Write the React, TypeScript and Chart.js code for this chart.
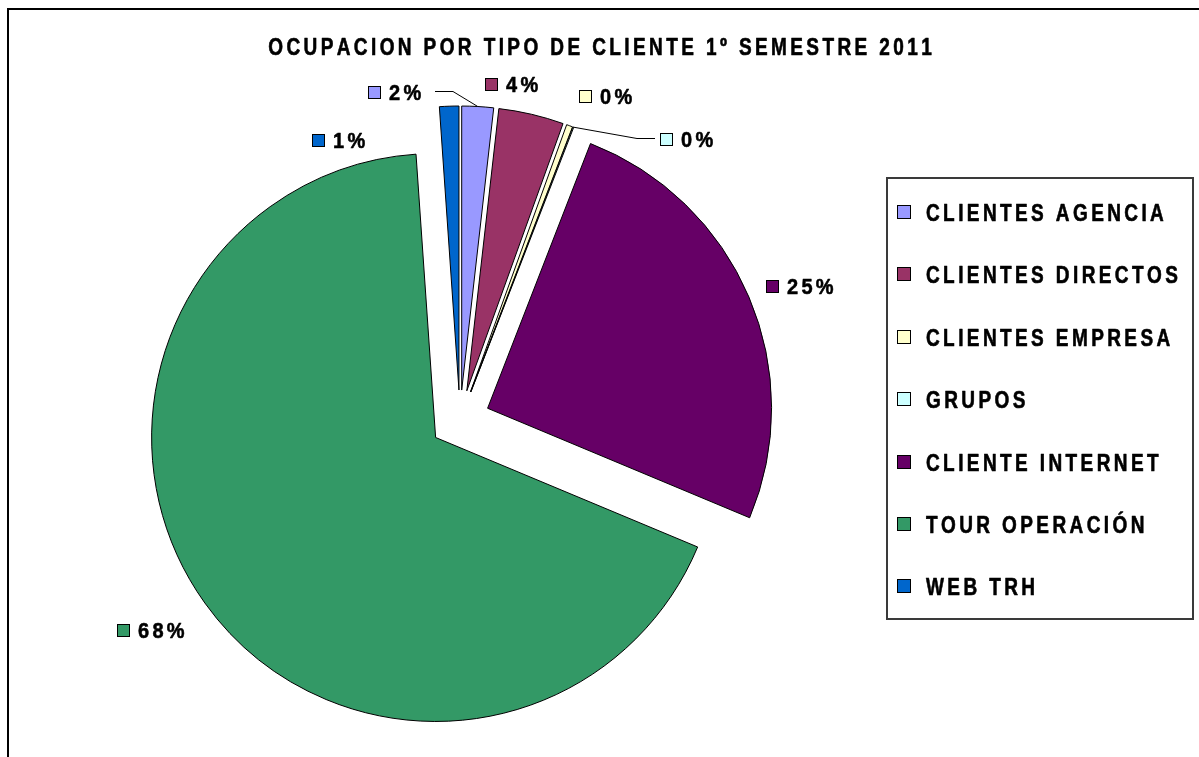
import React, { useEffect, useRef } from "react";
import { Chart, registerables } from "chart.js";

Chart.register(...registerables);

const categories = [
  "CLIENTES AGENCIA",
  "CLIENTES DIRECTOS",
  "CLIENTES EMPRESA",
  "GRUPOS",
  "CLIENTE INTERNET",
  "TOUR OPERACIÓN",
  "WEB TRH",
];
const shares = [1.8, 3.7, 0.35, 0.05, 25.4, 67.6, 1.1];
const sliceColors = ["#9999FF", "#993366", "#FFFFCC", "#CCFFFF", "#660066", "#339966", "#0066CC"];
const chartTitle = "OCUPACION POR TIPO DE CLIENTE 1º SEMESTRE 2011";

// Styling / layout only
const EXPLODE = 30;
const RADIUS = 284;
const FONT = '"Liberation Sans", Arial, Helvetica, sans-serif';
const labelPlacement: { x: number; y: number; elbow?: number[]; end?: number[] }[] = [
  { x: 368, y: 92, elbow: [453, 91], end: [435, 91] },
  { x: 485, y: 84 },
  { x: 579, y: 96 },
  { x: 660, y: 139, elbow: [637, 138], end: [655, 138] },
  { x: 766, y: 286 },
  { x: 117, y: 630 },
  { x: 312, y: 140 },
];

function spacedWidth(ctx: CanvasRenderingContext2D, text: string, ls: number) {
  let w = 0;
  for (const ch of text) w += ctx.measureText(ch).width + ls;
  return w - ls;
}

function drawSpaced(
  ctx: CanvasRenderingContext2D,
  text: string,
  x: number,
  cy: number,
  size: number,
  ls: number,
  sy: number,
  align: "left" | "center"
) {
  ctx.save();
  ctx.font = `bold ${size}px ${FONT}`;
  ctx.textBaseline = "alphabetic";
  ctx.textAlign = "left";
  ctx.fillStyle = "#000";
  ctx.strokeStyle = "#000";
  ctx.lineWidth = 0.5;
  ctx.lineJoin = "round";
  const w = spacedWidth(ctx, text, ls);
  let px = align === "center" ? x - w / 2 : x;
  ctx.translate(0, cy);
  ctx.scale(1, sy);
  const base = (0.729 * size) / 2;
  for (const ch of text) {
    ctx.fillText(ch, px, base);
    ctx.strokeText(ch, px, base);
    px += ctx.measureText(ch).width + ls;
  }
  ctx.restore();
}

function drawBox(ctx: CanvasRenderingContext2D, x: number, cy: number, size: number, color: string) {
  const top = Math.round(cy - size / 2);
  ctx.fillStyle = color;
  ctx.fillRect(x, top, size, size);
  ctx.strokeStyle = "#000";
  ctx.lineWidth = 1;
  ctx.strokeRect(x + 0.5, top + 0.5, size - 1, size - 1);
}

const explodePlugin = {
  id: "explode",
  afterDatasetsUpdate(chart: any) {
    const meta = chart.getDatasetMeta(0);
    meta.data.forEach((arc: any) => {
      const mid = (arc.startAngle + arc.endAngle) / 2;
      arc.x = arc.x + Math.cos(mid) * EXPLODE;
      arc.y = arc.y + Math.sin(mid) * EXPLODE;
    });
  },
};

const decorPlugin = {
  id: "decor",
  afterDraw(chart: any) {
    const ctx: CanvasRenderingContext2D = chart.ctx;
    ctx.save();
    // outer frame
    ctx.strokeStyle = "#000";
    ctx.lineWidth = 2;
    ctx.strokeRect(8, 9, 1400, 1000);

    // title
    drawSpaced(ctx, chartTitle, 600, 46, 19, 3.4, 1.3, "center");

    // legend
    ctx.strokeStyle = "#3a3a3a";
    ctx.lineWidth = 2;
    ctx.strokeRect(887, 178, 306, 441);
    categories.forEach((name, i) => {
      const cy = 212 + i * 62.4;
      drawBox(ctx, 897, cy, 14, sliceColors[i]);
      drawSpaced(ctx, name, 926, cy, 19, 3.4, 1.3, "left");
    });

    // data labels
    const meta = chart.getDatasetMeta(0);
    meta.data.forEach((arc: any, i: number) => {
      const p = labelPlacement[i];
      const txt = Math.round(shares[i]) + "%";
      if (p.elbow && p.end) {
        const mid = (arc.startAngle + arc.endAngle) / 2;
        const sx = arc.x + Math.cos(mid) * arc.outerRadius;
        const sy = arc.y + Math.sin(mid) * arc.outerRadius;
        ctx.strokeStyle = "#000";
        ctx.lineWidth = 1;
        ctx.beginPath();
        ctx.moveTo(sx, sy);
        ctx.lineTo(p.elbow[0], p.elbow[1] + 0.5);
        ctx.lineTo(p.end[0], p.end[1] + 0.5);
        ctx.stroke();
      }
      drawBox(ctx, p.x, p.y, 13, sliceColors[i]);
      drawSpaced(ctx, txt, p.x + 21, p.y, 20, 3.3, 1.12, "left");
    });
    ctx.restore();
  },
};

export default function App() {
  const canvasRef = useRef<HTMLCanvasElement | null>(null);
  useEffect(() => {
    if (!canvasRef.current) return;
    const chart = new Chart(canvasRef.current, {
      type: "pie",
      data: {
        labels: categories,
        datasets: [
          {
            data: shares,
            backgroundColor: sliceColors,
            borderColor: "#000",
            borderWidth: 1,
            radius: RADIUS,
          } as any,
        ],
      },
      options: {
        responsive: false,
        animation: false,
        devicePixelRatio: 1,
        radius: RADIUS,
        rotation: 0,
        layout: { padding: { left: 100, right: 379, top: 100, bottom: 17 } },
        plugins: {
          legend: { display: false },
          title: { display: false },
          tooltip: { enabled: false },
        },
      } as any,
      plugins: [explodePlugin, decorPlugin],
    });
    return () => chart.destroy();
  }, []);
  return (
    <div style={{ position: "absolute", left: 0, top: 0, width: 1199, height: 757, background: "#fff" }}>
      <canvas ref={canvasRef} width={1199} height={757} style={{ display: "block" }} />
    </div>
  );
}
